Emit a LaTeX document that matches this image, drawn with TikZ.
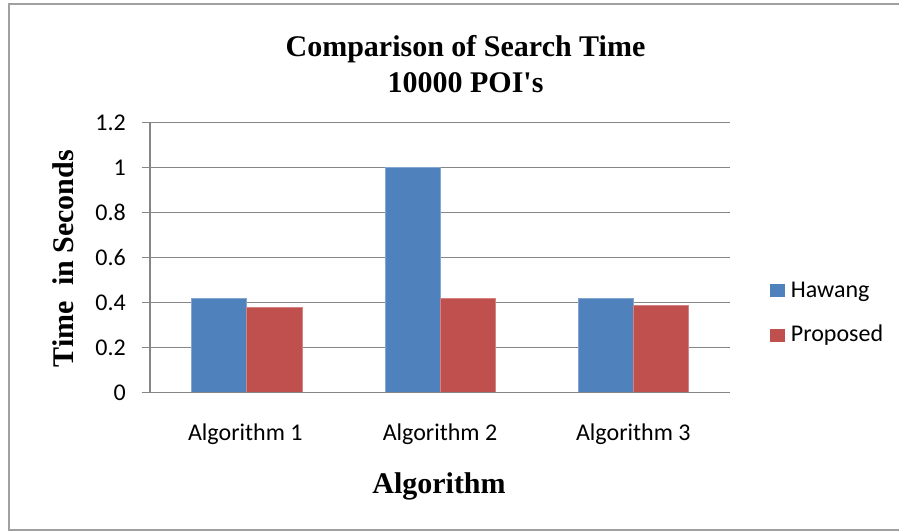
\documentclass[tikz,border=0pt]{standalone}
\usepackage{fontspec}
\setmainfont{Liberation Serif}
\newfontfamily\carl{Carlito}
\definecolor{barblue}{HTML}{4F81BD}
\definecolor{barred}{HTML}{C0504D}
\definecolor{gridgray}{HTML}{868686}
\definecolor{framegray}{HTML}{A0A0A0}
\tikzset{
  gridline/.style={draw=gridgray, line width=1.3pt},
  ticklabel/.style={font=\carl\fontsize{24}{28}\selectfont, inner sep=0pt, anchor=east},
  catlabel/.style={font=\carl\fontsize{24}{28}\selectfont, inner sep=0pt, anchor=base},
  legtext/.style={font=\carl\fontsize{24}{28}\selectfont, inner sep=0pt, anchor=base west},
  titletext/.style={font=\bfseries\fontsize{30}{36}\selectfont, inner sep=0pt, anchor=base},
  bluebar/.style={fill=barblue, draw=barblue!70!white, line width=0.6pt},
  redbar/.style={fill=barred, draw=barred!70!white, line width=0.6pt},
}
\begin{document}
\begin{tikzpicture}[x=1pt,y=-1pt]
\useasboundingbox (0,0) rectangle (899,531);
% frame
\draw[framegray, line width=2pt] (899,4) -- (9,4) -- (9,530) -- (899,530);
% gridlines and ticks
\foreach \v/\lab in {0/0,1/0.2,2/0.4,3/0.6,4/0.8,5/1,6/1.2}{
  \pgfmathsetmacro{\yy}{392.7-45*\v}
  \draw[gridline] (141.7,\yy) -- (730,\yy);
  \node[ticklabel] (t\v) at (126,\yy) {\lab};
}
% bars
\def\bw{55.2}
\foreach \c/\hb/\hr in {246.7/0.42/0.38, 440/1.0/0.42, 633.3/0.42/0.39}{
  \pgfmathsetmacro{\yb}{392.7-225*\hb}
  \pgfmathsetmacro{\yr}{392.7-225*\hr}
  \pgfmathsetmacro{\xl}{\c-\bw}
  \pgfmathsetmacro{\xr}{\c+\bw}
  \draw[bluebar] (\xl,392.7) rectangle (\c,\yb);
  \draw[redbar] (\c,392.7) rectangle (\xr,\yr);
}
% axes
\draw[gridline] (150,122.7) -- (150,392.7);
\draw[gridline] (141.7,392.7) -- (730,392.7);
% category labels
\node[catlabel] (c1) at (245.3,440) {Algorithm 1};
\node[catlabel] (c2) at (440,440) {Algorithm 2};
\node[catlabel] (c3) at (633.3,440) {Algorithm 3};
% titles
\node[titletext] (title1) at (465.5,56) {Comparison of Search Time};
\node[titletext] (title2) at (465.5,92) {10000 POI\textquotesingle s};
\node[titletext] (xlab) at (439,493) {Algorithm};
\node[titletext, rotate=90] (ylab) at (73,258.5) {Time\ \ in Seconds};
% legend
\fill[barblue] (770,284) rectangle (785,297);
\node[legtext] (leg1) at (790.7,297) {Hawang};
\fill[barred] (770,329) rectangle (785,342);
\node[legtext] (leg2) at (790.7,341.7) {Proposed};
\end{tikzpicture}
\end{document}
